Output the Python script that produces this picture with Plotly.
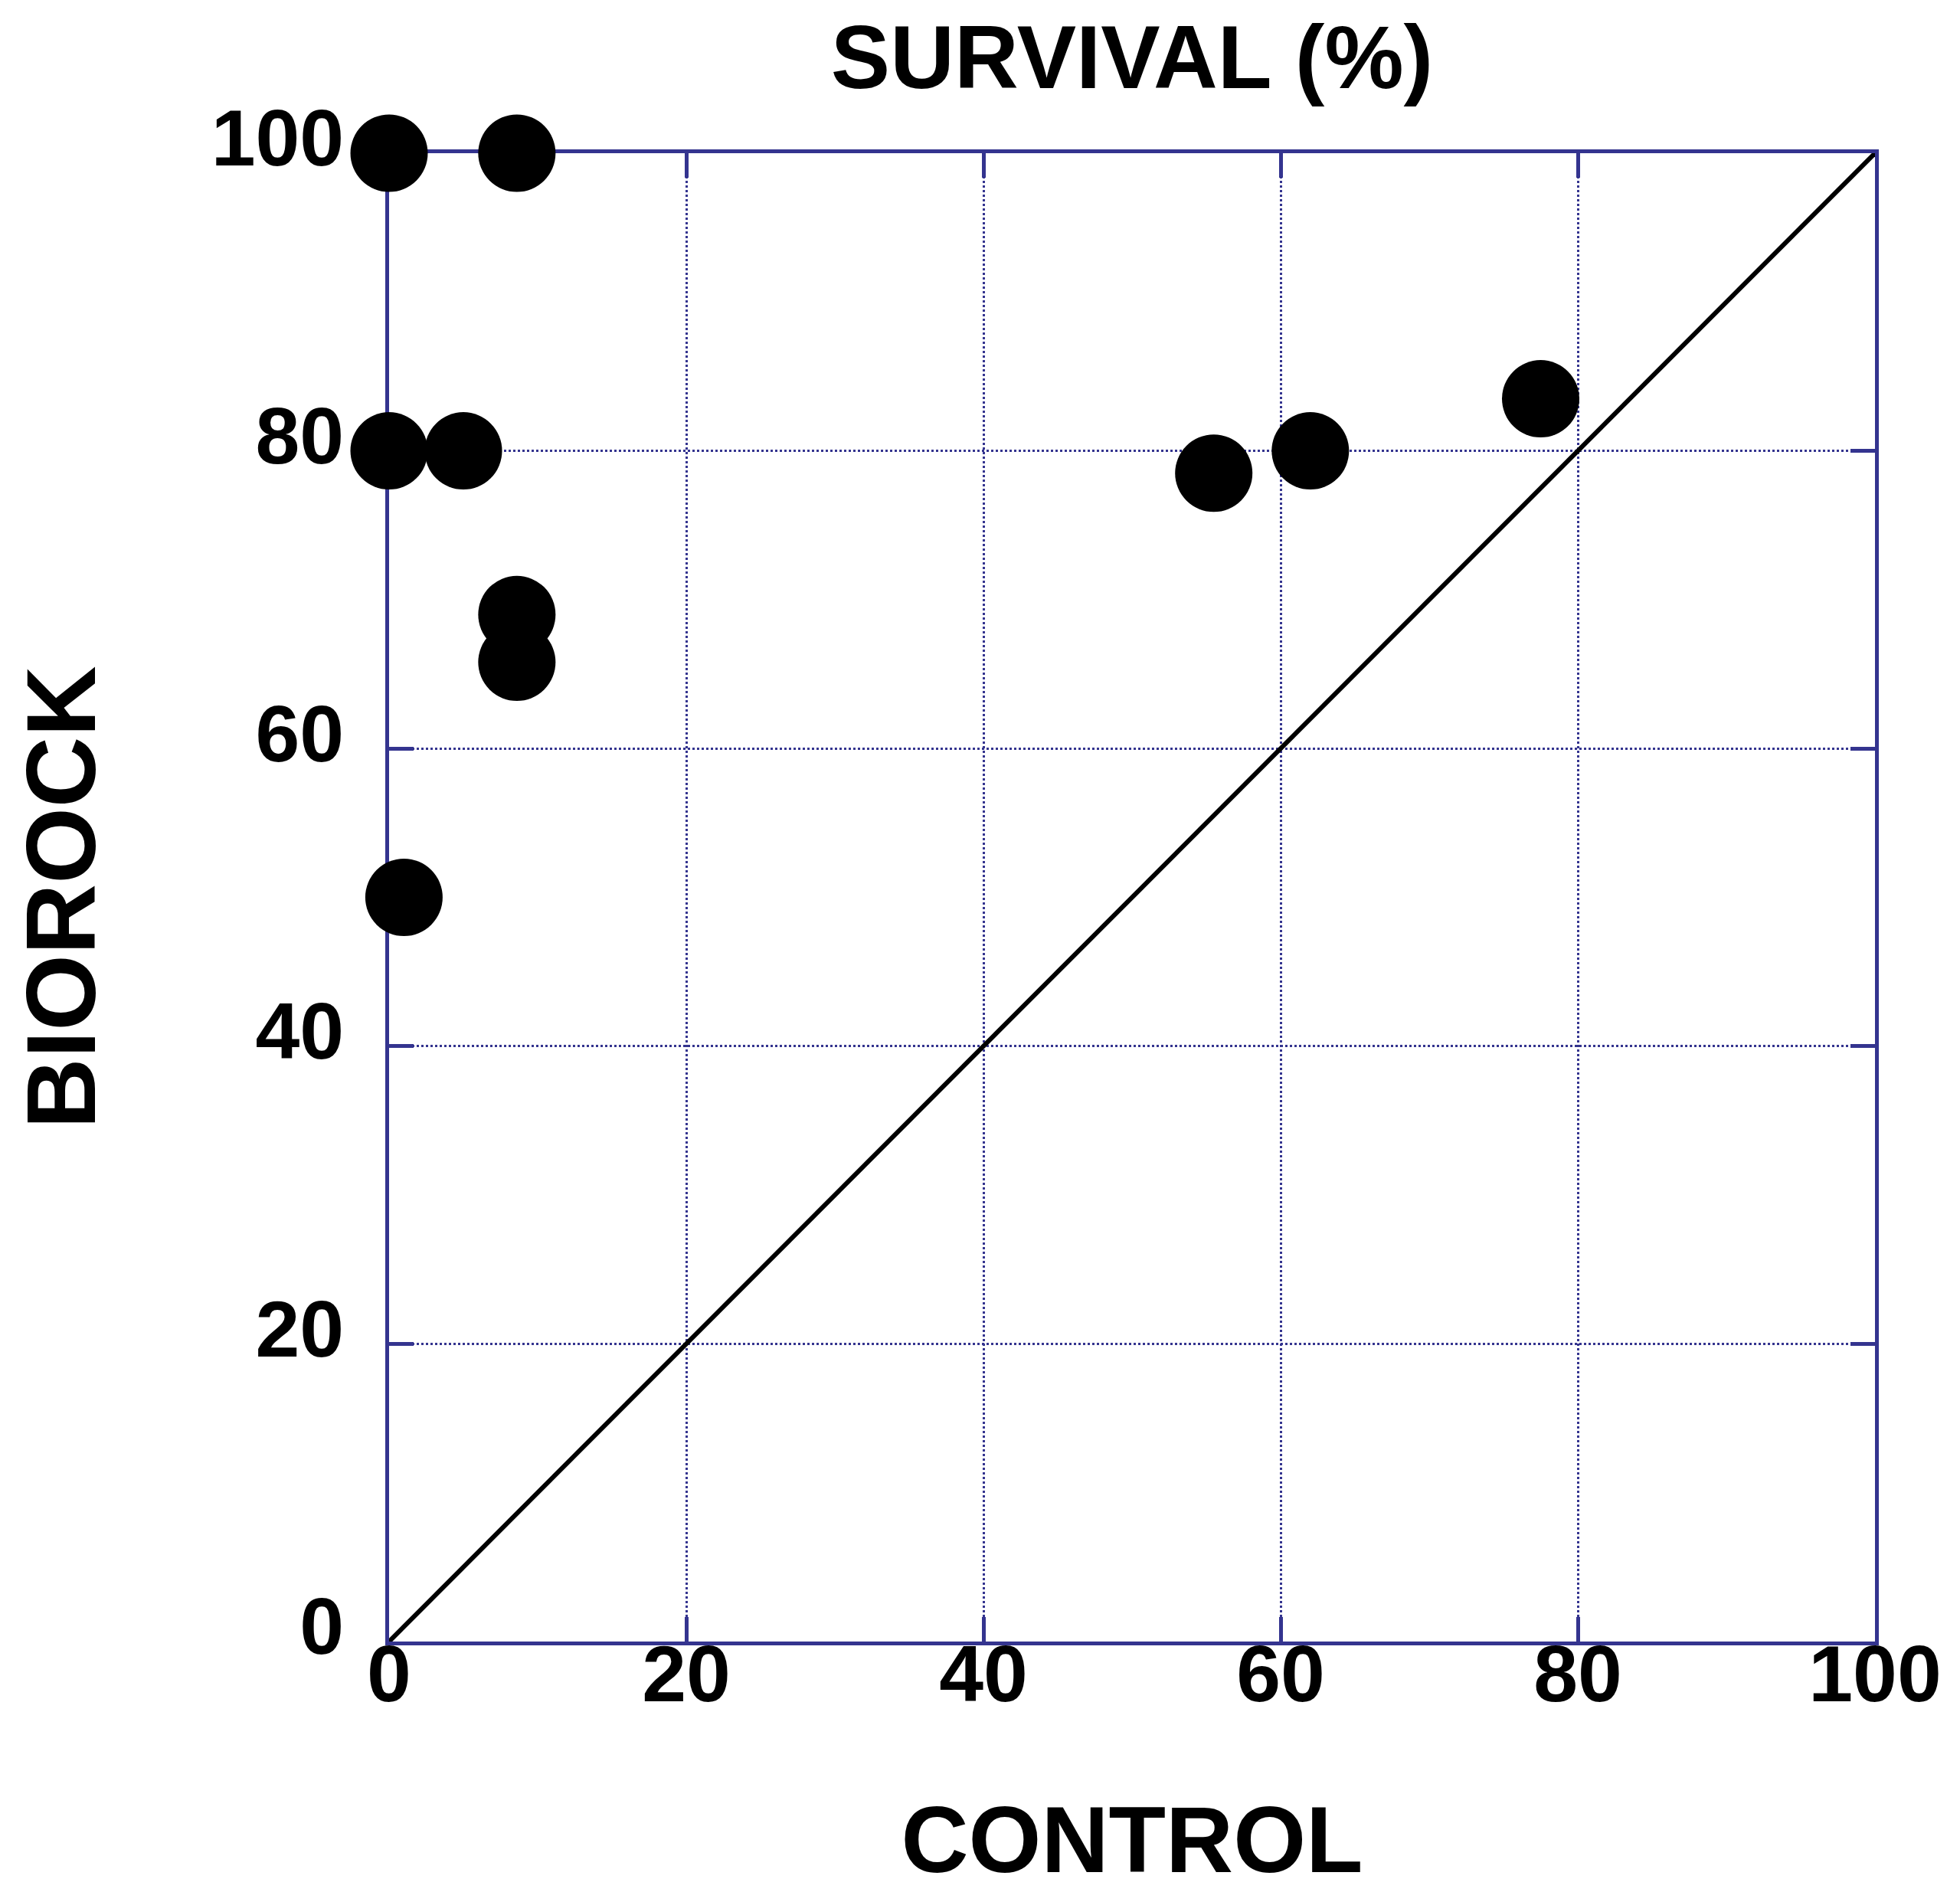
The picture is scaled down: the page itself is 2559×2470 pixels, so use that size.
import plotly.graph_objects as go

# Data
control = [0, 8.6, 0, 5.0, 8.6, 8.6, 1.0, 55.5, 62.0, 77.5]
biorock = [100, 100, 80, 80, 69, 65.8, 50, 78.5, 80, 83.5]
diag_x = [0, 100]
diag_y = [0, 100]
tick_vals = [0, 20, 40, 60, 80, 100]
tick_text = ["0", "20", "40", "60", "80", "100"]

# page body has an 8px margin, so the figure is sized to fit the window
W, H = 2551, 2462
NAVY = "#34348f"
FONT = "Liberation Sans"

fig = go.Figure()
fig.add_trace(go.Scatter(
    x=diag_x, y=diag_y, mode="lines",
    line=dict(color="black", width=6),
    showlegend=False, hoverinfo="skip", cliponaxis=False,
))
fig.add_trace(go.Scatter(
    x=control, y=biorock, mode="markers",
    marker=dict(color="black", size=101, line=dict(width=0)),
    showlegend=False, cliponaxis=False,
))

axis_common = dict(
    range=[0, 100],
    tickvals=tick_vals,
    ticktext=tick_text,
    showgrid=True,
    gridcolor=NAVY,
    gridwidth=3,
    griddash="dot",
    zeroline=False,
    showline=True,
    linecolor=NAVY,
    linewidth=5,
    mirror="allticks",
    ticks="inside",
    ticklen=32,
    tickwidth=5,
    tickcolor=NAVY,
    layer="below traces",
    automargin=False,
    tickfont=dict(family=FONT, size=104, color="black", weight="bold"),
    fixedrange=True,
)

fig.update_layout(
    width=W, height=H,
    margin=dict(l=500, r=111, t=192, b=327),
    paper_bgcolor="white",
    plot_bgcolor="white",
    title=dict(
        text="SURVIVAL (%)",
        font=dict(family=FONT, size=116, color="black", weight="bold"),
        x=(500 + 2440) / 2 / W, xanchor="center", xref="container",
        y=1 - 66 / H, yanchor="middle", yref="container",
    ),
    xaxis=dict(
        **axis_common,
        ticklabelstandoff=-52,
        title=dict(text="CONTROL", standoff=134,
                   font=dict(family=FONT, size=122, color="black", weight="bold")),
    ),
    yaxis=dict(
        **axis_common,
        ticklabelstandoff=33,
        ticklabelshift=-20,
        title=dict(text="BIOROCK", standoff=184,
                   font=dict(family=FONT, size=128, color="black", weight="bold")),
    ),
)

fig.write_html("out.html")
